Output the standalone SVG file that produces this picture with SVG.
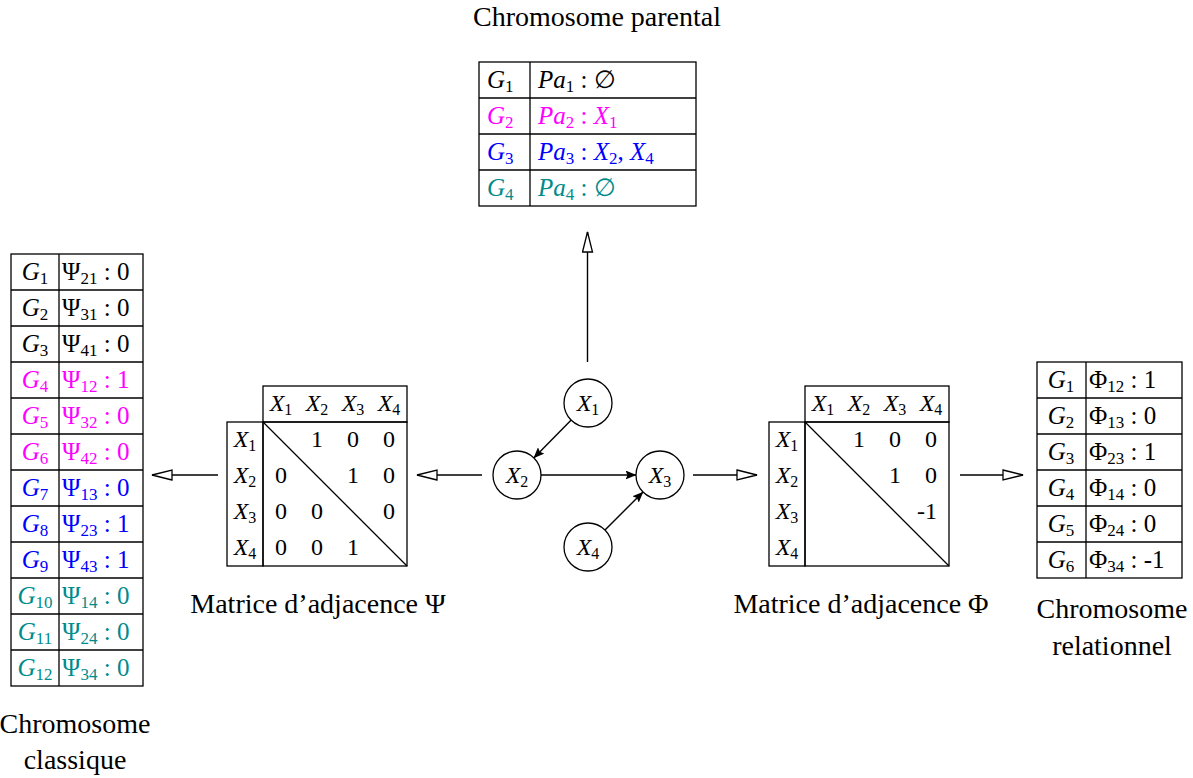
<svg xmlns="http://www.w3.org/2000/svg" width="1193" height="778" viewBox="0 0 1193 778">
<style>
text{font-family:"Liberation Serif","DejaVu Serif",serif;fill:#000}
.lbl{font-size:28px;text-anchor:middle}
.t{font-size:25px}
.m{font-size:24px}
.s{font-size:17px}
.sm{font-size:16px}
.c{text-anchor:middle}
.i{font-style:italic}
.box{fill:none;stroke:#000;stroke-width:1.3}
.grid{stroke:#000;stroke-width:1.3}
.arr{stroke:#000;stroke-width:1.4;fill:none}
.node{fill:#fff;stroke:#000;stroke-width:1.3}
.mg{fill:#ff00ff}.bl{fill:#0000ff}.tl{fill:#008b8b}
</style>
<defs>
<marker id="open" viewBox="0 0 22 12" markerWidth="22" markerHeight="12" refX="21" refY="6" orient="auto" markerUnits="userSpaceOnUse">
<path d="M1,1 L21,6 L1,11 Z" fill="#fff" stroke="#000" stroke-width="1.3"/>
</marker>
<marker id="fill" viewBox="0 0 11 9" markerWidth="11" markerHeight="9" refX="10.5" refY="4.5" orient="auto" markerUnits="userSpaceOnUse">
<path d="M0,0 L11,4.5 L0,9 L2,4.5 Z" fill="#000"/>
</marker>
</defs>

<!-- Chromosome parental -->
<g id="parental">
<rect class="box" x="479" y="62" width="217" height="144"/>
<line class="grid" x1="530" y1="62" x2="530" y2="206"/>
<line class="grid" x1="479" y1="98" x2="696" y2="98"/>
<line class="grid" x1="479" y1="134" x2="696" y2="134"/>
<line class="grid" x1="479" y1="170" x2="696" y2="170"/>
<text class="t" x="487" y="88"><tspan class="i">G</tspan><tspan class="s" dy="4">1</tspan></text>
<text class="t" x="538" y="88"><tspan class="i">Pa</tspan><tspan class="s" dy="4">1</tspan><tspan dy="-4"> : ∅</tspan></text>
<text class="t mg" x="487" y="124"><tspan class="i">G</tspan><tspan class="s" dy="4">2</tspan></text>
<text class="t mg" x="538" y="124"><tspan class="i">Pa</tspan><tspan class="s" dy="4">2</tspan><tspan dy="-4"> : </tspan><tspan class="i">X</tspan><tspan class="s" dy="4">1</tspan></text>
<text class="t bl" x="487" y="160"><tspan class="i">G</tspan><tspan class="s" dy="4">3</tspan></text>
<text class="t bl" x="538" y="160"><tspan class="i">Pa</tspan><tspan class="s" dy="4">3</tspan><tspan dy="-4"> : </tspan><tspan class="i">X</tspan><tspan class="s" dy="4">2</tspan><tspan dy="-4">, </tspan><tspan class="i">X</tspan><tspan class="s" dy="4">4</tspan></text>
<text class="t tl" x="487" y="196"><tspan class="i">G</tspan><tspan class="s" dy="4">4</tspan></text>
<text class="t tl" x="538" y="196"><tspan class="i">Pa</tspan><tspan class="s" dy="4">4</tspan><tspan dy="-4"> : ∅</tspan></text>
<text class="lbl" x="597" y="26">Chromosome parental</text>
</g>

<!-- Chromosome classique -->
<g id="classique">
<rect class="box" x="11" y="254" width="132" height="432"/>
<line class="grid" x1="59" y1="254" x2="59" y2="686"/>
<line class="grid" x1="11" y1="290" x2="143" y2="290"/>
<line class="grid" x1="11" y1="326" x2="143" y2="326"/>
<line class="grid" x1="11" y1="362" x2="143" y2="362"/>
<line class="grid" x1="11" y1="398" x2="143" y2="398"/>
<line class="grid" x1="11" y1="434" x2="143" y2="434"/>
<line class="grid" x1="11" y1="470" x2="143" y2="470"/>
<line class="grid" x1="11" y1="506" x2="143" y2="506"/>
<line class="grid" x1="11" y1="542" x2="143" y2="542"/>
<line class="grid" x1="11" y1="578" x2="143" y2="578"/>
<line class="grid" x1="11" y1="614" x2="143" y2="614"/>
<line class="grid" x1="11" y1="650" x2="143" y2="650"/>
<text class="t c" x="35" y="280"><tspan class="i">G</tspan><tspan class="s" dy="4">1</tspan></text>
<text class="t" x="62" y="280">Ψ<tspan class="s" dy="4">21</tspan><tspan dy="-4"> : 0</tspan></text>
<text class="t c" x="35" y="316"><tspan class="i">G</tspan><tspan class="s" dy="4">2</tspan></text>
<text class="t" x="62" y="316">Ψ<tspan class="s" dy="4">31</tspan><tspan dy="-4"> : 0</tspan></text>
<text class="t c" x="35" y="352"><tspan class="i">G</tspan><tspan class="s" dy="4">3</tspan></text>
<text class="t" x="62" y="352">Ψ<tspan class="s" dy="4">41</tspan><tspan dy="-4"> : 0</tspan></text>
<text class="t c mg" x="35" y="388"><tspan class="i">G</tspan><tspan class="s" dy="4">4</tspan></text>
<text class="t mg" x="62" y="388">Ψ<tspan class="s" dy="4">12</tspan><tspan dy="-4"> : 1</tspan></text>
<text class="t c mg" x="35" y="424"><tspan class="i">G</tspan><tspan class="s" dy="4">5</tspan></text>
<text class="t mg" x="62" y="424">Ψ<tspan class="s" dy="4">32</tspan><tspan dy="-4"> : 0</tspan></text>
<text class="t c mg" x="35" y="460"><tspan class="i">G</tspan><tspan class="s" dy="4">6</tspan></text>
<text class="t mg" x="62" y="460">Ψ<tspan class="s" dy="4">42</tspan><tspan dy="-4"> : 0</tspan></text>
<text class="t c bl" x="35" y="496"><tspan class="i">G</tspan><tspan class="s" dy="4">7</tspan></text>
<text class="t bl" x="62" y="496">Ψ<tspan class="s" dy="4">13</tspan><tspan dy="-4"> : 0</tspan></text>
<text class="t c bl" x="35" y="532"><tspan class="i">G</tspan><tspan class="s" dy="4">8</tspan></text>
<text class="t bl" x="62" y="532">Ψ<tspan class="s" dy="4">23</tspan><tspan dy="-4"> : 1</tspan></text>
<text class="t c bl" x="35" y="568"><tspan class="i">G</tspan><tspan class="s" dy="4">9</tspan></text>
<text class="t bl" x="62" y="568">Ψ<tspan class="s" dy="4">43</tspan><tspan dy="-4"> : 1</tspan></text>
<text class="t c tl" x="35" y="604"><tspan class="i">G</tspan><tspan class="s" dy="4">10</tspan></text>
<text class="t tl" x="62" y="604">Ψ<tspan class="s" dy="4">14</tspan><tspan dy="-4"> : 0</tspan></text>
<text class="t c tl" x="35" y="640"><tspan class="i">G</tspan><tspan class="s" dy="4">11</tspan></text>
<text class="t tl" x="62" y="640">Ψ<tspan class="s" dy="4">24</tspan><tspan dy="-4"> : 0</tspan></text>
<text class="t c tl" x="35" y="676"><tspan class="i">G</tspan><tspan class="s" dy="4">12</tspan></text>
<text class="t tl" x="62" y="676">Ψ<tspan class="s" dy="4">34</tspan><tspan dy="-4"> : 0</tspan></text>
<text class="lbl" x="75" y="733">Chromosome</text>
<text class="lbl" x="75" y="769">classique</text>
</g>

<!-- Chromosome relationnel -->
<g id="relationnel">
<rect class="box" x="1037" y="362" width="145" height="216"/>
<line class="grid" x1="1086" y1="362" x2="1086" y2="578"/>
<line class="grid" x1="1037" y1="398" x2="1182" y2="398"/>
<line class="grid" x1="1037" y1="434" x2="1182" y2="434"/>
<line class="grid" x1="1037" y1="470" x2="1182" y2="470"/>
<line class="grid" x1="1037" y1="506" x2="1182" y2="506"/>
<line class="grid" x1="1037" y1="542" x2="1182" y2="542"/>
<text class="t c" x="1061" y="388"><tspan class="i">G</tspan><tspan class="s" dy="4">1</tspan></text>
<text class="t" x="1089" y="388">Φ<tspan class="s" dy="4">12</tspan><tspan dy="-4"> : 1</tspan></text>
<text class="t c" x="1061" y="424"><tspan class="i">G</tspan><tspan class="s" dy="4">2</tspan></text>
<text class="t" x="1089" y="424">Φ<tspan class="s" dy="4">13</tspan><tspan dy="-4"> : 0</tspan></text>
<text class="t c" x="1061" y="460"><tspan class="i">G</tspan><tspan class="s" dy="4">3</tspan></text>
<text class="t" x="1089" y="460">Φ<tspan class="s" dy="4">23</tspan><tspan dy="-4"> : 1</tspan></text>
<text class="t c" x="1061" y="496"><tspan class="i">G</tspan><tspan class="s" dy="4">4</tspan></text>
<text class="t" x="1089" y="496">Φ<tspan class="s" dy="4">14</tspan><tspan dy="-4"> : 0</tspan></text>
<text class="t c" x="1061" y="532"><tspan class="i">G</tspan><tspan class="s" dy="4">5</tspan></text>
<text class="t" x="1089" y="532">Φ<tspan class="s" dy="4">24</tspan><tspan dy="-4"> : 0</tspan></text>
<text class="t c" x="1061" y="568"><tspan class="i">G</tspan><tspan class="s" dy="4">6</tspan></text>
<text class="t" x="1089" y="568">Φ<tspan class="s" dy="4">34</tspan><tspan dy="-4"> : -1</tspan></text>
<text class="lbl" x="1112" y="618">Chromosome</text>
<text class="lbl" x="1112" y="655">relationnel</text>
</g>

<!-- Matrice Psi -->
<g id="matricePsi">
<rect class="box" x="263" y="386" width="144" height="36"/>
<rect class="box" x="227" y="422" width="36" height="144"/>
<rect class="box" x="263" y="422" width="144" height="144"/>
<line class="grid" x1="263" y1="422" x2="407" y2="566"/>
<text class="m c" x="281" y="411"><tspan class="i">X</tspan><tspan class="sm" dy="4">1</tspan></text>
<text class="m c" x="317" y="411"><tspan class="i">X</tspan><tspan class="sm" dy="4">2</tspan></text>
<text class="m c" x="353" y="411"><tspan class="i">X</tspan><tspan class="sm" dy="4">3</tspan></text>
<text class="m c" x="389" y="411"><tspan class="i">X</tspan><tspan class="sm" dy="4">4</tspan></text>
<text class="m c" x="245" y="447"><tspan class="i">X</tspan><tspan class="sm" dy="4">1</tspan></text>
<text class="m c" x="245" y="483"><tspan class="i">X</tspan><tspan class="sm" dy="4">2</tspan></text>
<text class="m c" x="245" y="519"><tspan class="i">X</tspan><tspan class="sm" dy="4">3</tspan></text>
<text class="m c" x="245" y="555"><tspan class="i">X</tspan><tspan class="sm" dy="4">4</tspan></text>
<text class="m c" x="317" y="447">1</text><text class="m c" x="353" y="447">0</text><text class="m c" x="389" y="447">0</text>
<text class="m c" x="281" y="483">0</text><text class="m c" x="353" y="483">1</text><text class="m c" x="389" y="483">0</text>
<text class="m c" x="281" y="519">0</text><text class="m c" x="317" y="519">0</text><text class="m c" x="389" y="519">0</text>
<text class="m c" x="281" y="555">0</text><text class="m c" x="317" y="555">0</text><text class="m c" x="353" y="555">1</text>
<text class="lbl" x="318" y="613">Matrice d’adjacence Ψ</text>
</g>

<!-- Matrice Phi -->
<g id="matricePhi">
<rect class="box" x="805" y="386" width="144" height="36"/>
<rect class="box" x="769" y="422" width="36" height="144"/>
<rect class="box" x="805" y="422" width="144" height="144"/>
<line class="grid" x1="805" y1="422" x2="949" y2="566"/>
<text class="m c" x="823" y="411"><tspan class="i">X</tspan><tspan class="sm" dy="4">1</tspan></text>
<text class="m c" x="859" y="411"><tspan class="i">X</tspan><tspan class="sm" dy="4">2</tspan></text>
<text class="m c" x="895" y="411"><tspan class="i">X</tspan><tspan class="sm" dy="4">3</tspan></text>
<text class="m c" x="931" y="411"><tspan class="i">X</tspan><tspan class="sm" dy="4">4</tspan></text>
<text class="m c" x="787" y="447"><tspan class="i">X</tspan><tspan class="sm" dy="4">1</tspan></text>
<text class="m c" x="787" y="483"><tspan class="i">X</tspan><tspan class="sm" dy="4">2</tspan></text>
<text class="m c" x="787" y="519"><tspan class="i">X</tspan><tspan class="sm" dy="4">3</tspan></text>
<text class="m c" x="787" y="555"><tspan class="i">X</tspan><tspan class="sm" dy="4">4</tspan></text>
<text class="m c" x="859" y="447">1</text><text class="m c" x="895" y="447">0</text><text class="m c" x="931" y="447">0</text>
<text class="m c" x="895" y="483">1</text><text class="m c" x="931" y="483">0</text>
<text class="m c" x="927" y="519">-1</text>
<text class="lbl" x="861" y="613">Matrice d’adjacence Φ</text>
</g>

<!-- connectors -->
<g id="connectors">
<line class="arr" x1="587.5" y1="362" x2="587.5" y2="232" marker-end="url(#open)"/>
<line class="arr" x1="482" y1="475" x2="417" y2="475" marker-end="url(#open)"/>
<line class="arr" x1="218" y1="475" x2="152" y2="475" marker-end="url(#open)"/>
<line class="arr" x1="693" y1="475" x2="757" y2="475" marker-end="url(#open)"/>
<line class="arr" x1="960" y1="475" x2="1023" y2="475" marker-end="url(#open)"/>
<line class="arr" x1="571.2" y1="420.1" x2="533.8" y2="457.9" marker-end="url(#fill)"/>
<line class="arr" x1="541" y1="475" x2="636" y2="475" marker-end="url(#fill)"/>
<line class="arr" x1="605" y1="530" x2="643" y2="492" marker-end="url(#fill)"/>
</g>

<!-- graph nodes -->
<g id="X1"><circle class="node" cx="588" cy="403" r="24"/><text class="m c" x="588" y="411"><tspan class="i">X</tspan><tspan class="sm" dy="4">1</tspan></text></g>
<g id="X2"><circle class="node" cx="517" cy="475" r="24"/><text class="m c" x="517" y="483"><tspan class="i">X</tspan><tspan class="sm" dy="4">2</tspan></text></g>
<g id="X3"><circle class="node" cx="660" cy="475" r="24"/><text class="m c" x="660" y="483"><tspan class="i">X</tspan><tspan class="sm" dy="4">3</tspan></text></g>
<g id="X4"><circle class="node" cx="588" cy="547" r="24"/><text class="m c" x="588" y="555"><tspan class="i">X</tspan><tspan class="sm" dy="4">4</tspan></text></g>
</svg>
